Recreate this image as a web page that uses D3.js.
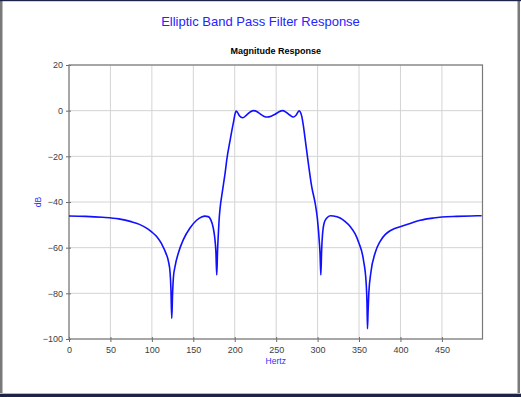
<!DOCTYPE html>
<html><head><meta charset="utf-8">
<script src="https://cdn.jsdelivr.net/npm/d3@7"></script>
<style>
html,body{margin:0;padding:0;background:#fff;}
svg{display:block;font-family:Arial,"Liberation Sans",sans-serif;}
</style></head><body>
<svg id="c" width="521" height="397"></svg>
<script>
const titleText = "Elliptic Band Pass Filter Response";
const subtitleText = "Magnitude Response";
const xLabel = "Hertz";
const yLabel = "dB";
const xTicks = [0,50,100,150,200,250,300,350,400,450];
const yTicks = [20,0,-20,-40,-60,-80,-100];

const freqHz = [0,20,40,60,75,85,95,100,106,112,117,120,122,123,124,125,126,128,132,138,146,154,160,164,168,171,174,176,177.3,178.3,179.3,180.3,181.3,182.3,183.3,184.3,186.3,188.5,190.4,194.4,198.4,201.6,203,205.6,209.7,214.5,219,223,227,231,235,239.4,244,248.7,253,258,262,266,270.8,274,277.7,280.9,283,285,289,293,297,299.8,302.2,303,303.9,304.8,305.5,307.9,311.1,315.5,319,327.2,333,339.3,345.3,349.5,355.3,358.6,359.6,360.2,360.9,361.8,364.2,369.4,375.5,381.5,387.5,393,399.6,411.7,423.8,439.9,450,468,485,498];
const magDb = [-46.1,-46.3,-46.7,-47.4,-48.6,-49.8,-51.8,-53.2,-55.2,-58.5,-62.5,-66,-71,-78,-91,-80,-73,-68.2,-62.3,-56.5,-51.4,-48.0,-46.6,-46.2,-46.4,-47.7,-51.2,-56,-62,-72,-61,-53.6,-47,-42.8,-39.8,-37.3,-32.5,-27,-21.5,-13,-5.2,-0.2,-0.6,-2.2,-3.1,-1.8,-0.5,0,-0.5,-1.5,-2.4,-2.8,-2.4,-1.6,-0.6,0,-0.7,-1.8,-2.8,-2.0,-0.1,-2.5,-7,-12.5,-23.5,-33.5,-40.4,-47.5,-58,-63,-72,-62,-56.5,-49.2,-47.0,-46.0,-46.1,-47,-48.5,-50.7,-54.0,-57.6,-65.3,-75.5,-84,-95.5,-88,-80,-71.1,-62.3,-57.2,-54.3,-52.6,-51.6,-50.8,-49.4,-48.0,-47.0,-46.6,-46.3,-46.1,-46.0];

const svg = d3.select("#c");
const W = 521, H = 397;
const L = 69, R = 482.5, T = 65, B = 339;

const x = d3.scaleLinear().domain([0,499]).range([L,R]);
const y = d3.scaleLinear().domain([-100,20]).range([B,T]);

// frame
svg.append("rect").attr("x",0).attr("y",0).attr("width",W).attr("height",H).attr("fill","#fff");
svg.append("rect").attr("x",0).attr("y",0).attr("width",2.5).attr("height",H).attr("fill","#7a7a7a");
svg.append("rect").attr("x",517.5).attr("y",0).attr("width",2.5).attr("height",H).attr("fill","#7a7a7a");
svg.append("rect").attr("x",0).attr("y",0).attr("width",W).attr("height",1.2).attr("fill","#1c2448");
svg.append("rect").attr("x",0).attr("y",393).attr("width",W).attr("height",1).attr("fill","#aab8dc");
svg.append("rect").attr("x",0).attr("y",394).attr("width",W).attr("height",3).attr("fill","#1c2448");

// gridlines
const grid = svg.append("g");
grid.selectAll("line.vx").data(xTicks).enter().append("line")
  .attr("x1",d=>x(d)).attr("x2",d=>x(d)).attr("y1",T).attr("y2",B)
  .attr("stroke","#d4d4d4").attr("stroke-width",1);
grid.selectAll("line.hy").data(yTicks).enter().append("line")
  .attr("x1",L).attr("x2",R).attr("y1",d=>y(d)).attr("y2",d=>y(d))
  .attr("stroke","#d4d4d4").attr("stroke-width",1);

// axes
const xAxis = d3.axisBottom(x).tickValues(xTicks).tickSizeInner(3).tickSizeOuter(0).tickPadding(5);
const yAxis = d3.axisLeft(y).tickValues(yTicks).tickSizeInner(3).tickSizeOuter(0).tickPadding(3);
const gx = svg.append("g").attr("transform",`translate(0,${B})`).call(xAxis);
const gy = svg.append("g").attr("transform",`translate(${L},0)`).call(yAxis);
[gx,gy].forEach(g=>{
  g.select(".domain").remove();
  g.selectAll(".tick line").attr("stroke","#6a6a6a");
  g.selectAll(".tick text").attr("fill","#404040").style("font-size","9px").style("font-family","Arial,'Liberation Sans',sans-serif");
});
gx.selectAll(".tick line").attr("y1",-2);
gy.selectAll(".tick line").attr("x1",2);

// plot border
svg.append("rect").attr("x",L).attr("y",T).attr("width",R-L).attr("height",B-T)
  .attr("fill","none").attr("stroke","#7a7a7a").attr("stroke-width",1.2);

// curve
const line = d3.line().x((d,i)=>x(freqHz[i])).y(d=>y(d)).curve(d3.curveMonotoneX);
svg.append("path").datum(magDb).attr("d",line).attr("fill","none")
  .attr("stroke","#1010ff").attr("stroke-width",1.6);

// titles
svg.append("text").attr("x",260.5).attr("y",26).attr("text-anchor","middle")
  .attr("fill","#2424ff").style("font-size","13px").text(titleText);
svg.append("text").attr("x",(L+R)/2).attr("y",54).attr("text-anchor","middle")
  .attr("fill","#000").style("font-size","9px").style("font-weight","bold").text(subtitleText);
svg.append("text").attr("x",(L+R)/2).attr("y",364).attr("text-anchor","middle")
  .attr("fill","#3030ff").style("font-size","8.5px").text(xLabel);
svg.append("text").attr("transform",`translate(41,${(T+B)/2}) rotate(-90)`).attr("text-anchor","middle")
  .attr("fill","#3030ff").style("font-size","8.5px").text(yLabel);
</script>
</body></html>
